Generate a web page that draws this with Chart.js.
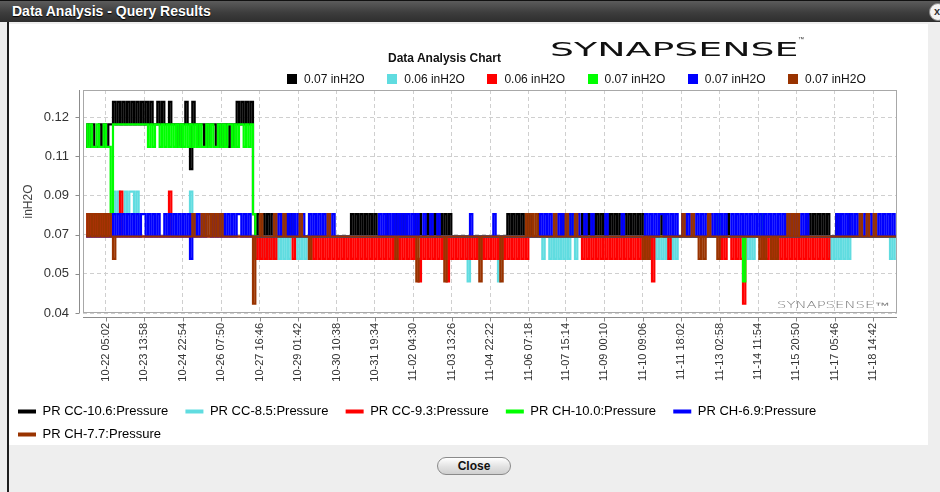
<!DOCTYPE html>
<html>
<head>
<meta charset="utf-8">
<title>Data Analysis - Query Results</title>
<script src="https://cdn.jsdelivr.net/npm/chart.js@4.4.1/dist/chart.umd.min.js"></script>
<style>
  html, body { margin: 0; padding: 0; }
  body { width: 940px; height: 492px; overflow: hidden; position: relative; background: #eeeeee; font-family: "Liberation Sans", Arial, sans-serif; }
  #titlebar { position: absolute; left: 0; top: 0; width: 940px; height: 22px; box-sizing: border-box; border-top: 1px solid #111; background: linear-gradient(#5c5c5c, #3d3d3d 55%, #2e2e2e); }
  #titlebar span { position: absolute; left: 12px; top: 2px; color: #fff; font-weight: bold; font-size: 14px; text-shadow: 0 1px 1px #000; }
  #closeX { position: absolute; left: 929px; top: 3px; width: 16px; height: 16px; border-radius: 50%; background: #f4f4f4; border: 1px solid #888; font: bold 11px "Liberation Sans", Arial; color: #333; line-height: 15px; text-indent: 4px; }
  #edge { position: absolute; left: 7px; top: 22px; width: 2px; height: 470px; background: #1e1e1e; }
  #panel { position: absolute; left: 9px; top: 24px; width: 919px; height: 421px; background: #fff; }
  #chartBox { position: absolute; left: 8px; top: 24px; width: 920px; height: 427px; }
  #chartTitle { position: absolute; left: 388px; top: 51px; font-weight: bold; font-size: 12px; color: #111; }
  #logo { position: absolute; left: 550px; top: 39px; white-space: nowrap; }
  .logoText { display: inline-block; font-family: "DejaVu Sans", sans-serif; transform-origin: 0 0; }
  #logoBig { font-size: 20px; line-height: 20px; color: #111; }
  #tm { position: absolute; left: 798px; top: 36px; font-size: 6px; color: #333; }
  #logoSmall { position: absolute; left: 777px; top: 302px; font-size: 8px; line-height: 8px; color: #777; font-weight: 200; }
  #valueLegend { position: absolute; left: 287px; top: 72px; display: flex; font-size: 12px; color: #111; }
  #valueLegend .item { display: flex; align-items: center; margin-right: 22.5px; }
  #valueLegend .sw { width: 10px; height: 10px; margin-right: 7px; }
  #closeBtn { position: absolute; left: 437px; top: 457px; width: 74px; height: 18px; box-sizing: border-box; border: 1px solid #8a8a8a; border-radius: 9px; background: linear-gradient(#ffffff, #e4e4e4 50%, #cfcfcf); font-weight: bold; font-size: 12px; text-align: center; line-height: 16px; color: #111; }
</style>
</head>
<body>
<div id="titlebar"><span>Data Analysis - Query Results</span></div>
<div id="closeX">x</div>
<div id="panel"></div>
<div id="edge"></div>
<div id="chartBox"><canvas id="chart" width="920" height="427"></canvas></div>
<div id="chartTitle">Data Analysis Chart</div>
<div id="logo"><span id="logoBig" class="logoText">SYNAPSENSE</span></div>
<div id="tm">™</div>
<span id="logoSmall" class="logoText">SYNAPSENSE™</span>
<div id="valueLegend"></div>
<div id="closeBtn">Close</div>

<script>
// series names, colours and the latest value shown in the top legend
const seriesNames = ['PR CC-10.6:Pressure', 'PR CC-8.5:Pressure', 'PR CC-9.3:Pressure', 'PR CH-10.0:Pressure', 'PR CH-6.9:Pressure', 'PR CH-7.7:Pressure'];
const seriesColors = ['#000000', '#60dce0', '#ff0000', '#00ff00', '#0000ff', '#993300'];
const currentValues = [0.07, 0.06, 0.06, 0.07, 0.07, 0.07];
const unit = 'inH2O';

// x axis tick labels (MM-DD HH:MM), hours are counted from the first one
const xTickLabels = ['10-22 05:02', '10-23 13:58', '10-24 22:54', '10-26 07:50', '10-27 16:46', '10-29 01:42', '10-30 10:38', '10-31 19:34', '11-02 04:30', '11-03 13:26', '11-04 22:22', '11-06 07:18', '11-07 15:14', '11-09 00:10', '11-10 09:06', '11-11 18:02', '11-13 02:58', '11-14 11:54', '11-15 20:50', '11-17 05:46', '11-18 14:42'];
const xMinHour = -19.7;
const xMaxHour = 678.0;

// y axis
const yTickValues = [0.03587, 0.05334, 0.07082, 0.08829, 0.10577, 0.12324];
const yMin = 0.03587;
const yMax = 0.13533;

// samples every 2 hours, first one 17 h before the first tick label
const firstSampleHour = -17;
const sampleStepHours = 2;

// readings, hundredths of inH2O
const prCC106 = [
  11,12,11,12,11,11,12,11,12,11,12,12,13,12,13,12,13,12,13,12,
  13,12,13,12,13,12,13,12,13,12,12,13,12,13,12,12,13,12,12,12,
  11,12,12,13,12,10,13,12,11,12,12,11,12,11,12,12,11,12,11,12,
  12,11,12,11,12,13,12,13,12,13,12,13,8,7,8,7,8,7,8,7,
  8,7,7,7,7,7,8,7,8,7,7,7,7,7,7,7,7,7,7,7,
  7,7,7,7,7,7,7,7,7,7,7,7,7,7,8,7,8,7,8,7,
  8,7,8,7,8,7,7,7,7,8,7,7,7,8,7,7,8,7,7,7,
  7,8,7,8,7,7,8,7,8,7,8,7,8,7,8,7,8,7,7,7,
  7,7,7,7,7,7,7,7,7,7,7,7,7,7,7,7,7,7,7,7,
  7,8,7,8,7,8,7,8,7,8,7,8,7,7,8,7,7,7,7,7,
  7,7,7,7,7,8,7,7,7,7,7,7,7,8,7,8,7,8,7,8,
  7,8,7,8,7,8,7,8,7,8,7,8,7,8,7,8,7,8,7,8,
  7,7,7,7,7,7,7,8,7,7,7,7,7,7,7,7,7,7,7,7,
  7,7,7,7,7,7,7,7,7,7,7,7,7,7,7,8,7,7,7,7,
  7,7,7,7,7,7,7,7,7,7,7,7,7,7,7,7,7,7,7,7,
  7,7,7,7,7,7,7,7,7,7,8,7,8,7,8,7,8,7,8,7,
  7,7,8,7,7,7,7,8,7,7,7,7,7,7,7,7,7,7,7,7,
  7,7,7,7,7,7,7,7
];
const prCC85 = [
  7,7,7,7,7,7,7,7,7,7,7,7,9,8,9,8,8,9,8,9,
  9,8,9,7,7,7,7,7,7,7,7,7,7,7,7,7,7,7,7,7,
  7,7,7,7,7,9,7,7,7,7,7,7,7,7,7,7,7,7,7,7,
  7,7,7,7,7,7,7,7,7,7,7,7,7,6,7,6,7,6,7,6,
  7,6,7,6,7,6,7,6,7,7,6,7,6,7,6,7,7,7,7,7,
  7,7,7,7,7,7,7,7,7,7,7,7,7,7,7,7,7,7,7,7,
  7,7,7,7,7,7,7,7,7,7,7,7,7,7,7,7,7,7,7,7,
  7,7,7,7,7,7,7,7,7,7,7,7,7,7,7,7,7,7,7,7,
  7,7,7,7,5,7,7,7,7,7,7,7,7,7,7,7,7,5,7,7,
  7,7,7,7,7,7,7,7,7,7,7,7,7,7,7,7,6,7,7,6,
  7,6,7,6,7,6,7,6,7,7,6,7,7,7,7,7,7,7,7,7,
  7,7,7,7,7,7,7,7,7,7,7,7,7,7,7,7,7,7,7,7,
  7,7,7,6,7,6,7,6,7,6,7,6,7,6,7,7,7,7,7,7,
  7,7,7,7,7,7,7,7,7,7,7,7,7,7,7,7,7,7,7,7,
  7,7,7,7,6,7,6,7,7,7,7,7,7,7,7,7,7,7,7,7,
  7,7,7,7,7,7,7,7,7,7,7,7,7,7,7,7,7,7,7,6,
  7,6,7,6,7,6,7,6,7,7,7,7,7,7,7,7,7,7,7,7,
  7,7,7,7,7,6,7,6
];
const prCC93 = [
  7,8,7,8,7,8,7,8,7,8,7,8,7,7,7,9,7,7,7,7,
  7,7,7,7,7,7,7,7,7,7,7,7,7,7,7,7,9,7,7,7,
  7,7,7,7,7,7,7,7,7,7,7,7,7,7,7,8,7,8,7,7,
  7,7,7,7,7,7,7,7,7,7,7,7,7,6,7,6,7,6,7,6,
  7,6,7,7,7,7,7,7,7,6,7,7,7,7,7,7,6,7,6,7,
  6,7,6,7,6,7,6,7,6,7,6,7,6,7,6,7,6,7,6,7,
  6,7,6,7,6,7,6,7,6,7,6,7,6,7,6,7,6,7,6,7,
  6,7,6,5,7,6,7,6,7,6,7,6,7,6,7,5,7,6,7,6,
  7,6,7,6,7,6,7,6,7,6,7,6,7,6,7,6,7,6,7,6,
  7,6,7,6,7,6,7,6,7,6,7,7,7,7,7,7,7,7,7,7,
  7,7,7,7,7,7,7,7,7,7,7,7,7,6,7,6,7,6,7,6,
  7,6,7,6,7,6,7,6,7,6,7,6,7,6,7,6,7,6,7,6,
  7,6,7,5,7,7,7,7,7,7,6,7,7,7,7,7,7,7,7,7,
  7,7,7,7,7,7,7,7,7,7,7,7,6,7,6,7,7,6,7,6,
  7,6,4,7,7,7,7,7,7,7,6,7,6,7,6,7,6,7,6,7,
  6,7,6,7,6,7,6,7,6,7,6,7,6,7,6,7,6,7,6,7,
  7,7,7,7,7,7,7,7,7,7,7,7,7,7,7,7,7,7,7,7,
  7,7,7,7,7,7,7,7
];
const prCH100 = [
  12,11,12,11,11,12,11,11,12,11,11,8,12,12,12,12,12,12,12,12,
  12,12,12,12,12,12,12,11,12,11,12,12,11,12,11,12,11,12,11,12,
  11,12,11,12,11,12,11,12,11,12,11,11,12,11,12,11,11,12,11,12,
  11,12,12,11,12,11,12,12,11,12,11,12,8,7,7,7,7,7,7,7,
  7,7,7,7,7,7,7,7,7,7,7,7,7,7,7,7,7,7,7,7,
  7,7,7,7,7,7,7,7,7,7,7,7,7,7,7,7,7,7,7,7,
  7,7,7,7,7,7,7,7,7,7,7,7,7,7,7,7,7,7,7,7,
  7,7,7,7,7,7,7,7,7,7,7,7,7,7,7,7,7,7,7,7,
  7,7,7,7,7,7,7,7,7,7,7,7,7,7,7,7,7,7,7,7,
  7,7,7,7,7,7,7,7,7,7,7,7,7,7,7,7,7,7,7,7,
  7,7,7,7,7,7,7,7,8,7,7,7,7,7,7,7,7,7,7,7,
  7,7,7,7,7,7,7,7,7,7,7,7,7,7,7,7,7,7,7,7,
  7,7,7,7,7,7,7,7,7,7,7,7,7,7,7,7,7,7,7,7,
  7,7,7,7,7,7,7,7,7,7,7,8,7,7,7,7,7,7,7,7,
  7,7,5,7,7,7,7,7,7,7,8,7,7,7,7,7,7,7,7,7,
  7,7,7,7,7,7,7,7,7,7,7,7,7,7,7,7,7,7,7,7,
  7,7,7,7,7,7,7,7,7,7,7,7,7,7,7,7,7,7,7,7,
  7,7,7,7,7,7,7,7
];
const prCH69 = [
  7,7,7,7,7,7,7,7,7,7,7,7,8,7,8,7,8,7,8,7,
  8,7,8,7,8,8,7,8,7,8,7,8,7,7,8,7,8,7,8,7,
  8,7,8,7,8,6,8,7,8,7,8,7,8,8,7,8,7,8,7,8,
  7,8,7,8,7,8,8,7,8,7,8,7,7,7,7,7,7,7,7,7,
  7,8,7,8,7,8,7,8,7,8,7,8,7,8,7,7,8,7,8,7,
  8,7,8,7,8,7,8,7,7,7,7,7,7,7,7,7,7,7,7,7,
  7,7,7,7,7,7,8,7,8,7,8,7,8,7,8,7,8,7,8,7,
  8,7,8,7,7,8,7,7,8,7,7,8,7,7,7,7,7,7,7,7,
  7,7,7,7,7,8,7,7,7,7,7,7,7,7,7,8,7,7,7,7,
  7,7,7,7,7,7,7,7,7,7,7,7,7,7,7,8,7,8,7,8,
  7,8,7,8,7,8,7,8,7,8,7,8,7,7,8,7,7,8,7,7,
  7,7,7,8,7,7,7,7,7,7,8,7,7,7,7,7,7,7,7,7,
  8,7,8,7,8,7,8,8,7,8,7,8,7,8,7,7,8,7,8,7,
  8,7,8,7,8,7,8,7,8,7,8,7,8,7,8,7,7,8,7,8,
  7,8,7,8,7,8,7,8,7,8,7,8,7,8,7,8,7,8,7,8,
  7,8,7,8,7,8,7,8,7,8,7,7,7,7,7,7,7,7,7,7,
  7,7,8,7,8,7,8,7,8,7,8,7,8,7,8,7,8,7,8,7,
  8,7,8,7,8,7,8,7
];
const prCH77 = [
  8,7,8,7,8,7,8,7,8,7,8,7,6,7,7,7,7,7,7,7,
  7,7,7,7,7,7,7,7,7,7,7,7,7,7,7,7,7,7,7,7,
  7,7,7,7,7,7,8,7,7,7,8,7,8,7,8,7,8,7,8,7,
  7,7,7,7,7,7,7,7,7,7,7,7,4,7,7,8,7,7,7,7,
  7,8,7,7,7,8,7,7,7,7,7,7,8,7,7,7,6,7,7,7,
  7,7,7,7,8,7,7,7,7,7,7,7,7,7,7,7,7,7,7,7,
  7,7,7,7,7,7,7,7,7,7,7,7,7,6,7,7,7,7,7,7,
  7,7,5,7,7,7,7,7,7,7,7,7,7,7,5,7,7,7,7,7,
  7,7,7,7,7,7,7,7,7,5,7,7,7,7,7,7,7,7,5,7,
  7,7,7,7,7,7,7,7,7,8,7,8,7,8,7,7,7,7,7,7,
  7,8,7,7,7,7,8,7,7,7,8,7,7,7,7,7,7,7,7,7,
  7,7,7,7,7,7,7,7,7,7,7,7,7,7,7,7,7,7,7,6,
  7,6,7,7,7,7,7,7,7,7,7,7,7,7,7,7,8,7,7,7,
  8,7,7,6,7,6,7,8,7,7,7,6,7,7,7,7,7,7,7,7,
  7,7,7,7,7,7,7,7,7,6,7,6,7,7,6,7,6,7,7,7,
  7,8,7,8,7,8,7,7,7,7,7,7,7,7,7,7,7,7,7,7,
  7,7,7,7,7,7,7,7,7,7,7,7,8,7,7,8,7,7,8,7,
  7,7,7,7,7,7,7,7
];
const seriesValues = [prCC106, prCC85, prCC93, prCH100, prCH69, prCH77];

// 'MM-DD HH:MM' -> hours after the first tick label
function hoursFrom(label) {
  const [md, hm] = label.split(' ');
  const [mo, d] = md.split('-').map(Number);
  const [h, m] = hm.split(':').map(Number);
  const base = Date.UTC(2000, 9, 22, 5, 2);
  return (Date.UTC(2000, mo - 1, d, h, m) - base) / 3600000;
}
const xTickHours = xTickLabels.map(hoursFrom);

// top legend with the latest values
const valueLegend = document.getElementById('valueLegend');
currentValues.forEach((v, k) => {
  const item = document.createElement('div');
  item.className = 'item';
  item.innerHTML = `<span class="sw" style="background:${seriesColors[k]}"></span>${v.toFixed(2)} ${unit}`;
  valueLegend.appendChild(item);
});

// stretch logo text to the width seen in the picture
function fitWidth(id, w) {
  const el = document.getElementById(id);
  el.style.transform = `scaleX(${w / el.offsetWidth})`;
}
fitWidth('logoBig', 248);
fitWidth('logoSmall', 113);

const plotFrame = {
  id: 'plotFrame',
  beforeDatasetsDraw(chart) {
    const {ctx, chartArea: a} = chart;
    ctx.save();
    ctx.strokeStyle = '#a8a8a8';
    ctx.lineWidth = 1;
    ctx.strokeRect(a.left + 0.5, a.top + 0.5, a.right - a.left - 1, a.bottom - a.top - 1);
    ctx.restore();
  },
  afterDraw(chart) {
    // axis lines sit a few pixels off the plot, jfreechart style
    const {ctx, chartArea: a, scales: {x, y}} = chart;
    const ax = Math.round(a.left - 4) + 0.5;
    const ay = Math.round(a.bottom + 4) + 0.5;
    ctx.save();
    ctx.strokeStyle = '#8c8c8c';
    ctx.lineWidth = 1;
    ctx.beginPath();
    ctx.moveTo(ax, a.top);
    ctx.lineTo(ax, a.bottom);
    y.ticks.forEach(t => {
      const py = Math.round(y.getPixelForValue(t.value)) + 0.5;
      ctx.moveTo(ax - 4, py);
      ctx.lineTo(ax, py);
    });
    ctx.moveTo(a.left, ay);
    ctx.lineTo(a.right, ay);
    x.ticks.forEach(t => {
      const px = Math.round(x.getPixelForValue(t.value)) + 0.5;
      ctx.moveTo(px, ay);
      ctx.lineTo(px, ay + 4);
    });
    ctx.stroke();
    ctx.restore();
  }
};

Chart.defaults.font.family = '"Liberation Sans", Arial, sans-serif';

new Chart(document.getElementById('chart'), {
  type: 'line',
  data: {
    datasets: seriesNames.map((name, k) => ({
      label: name,
      data: seriesValues[k].map((v, i) => ({x: firstSampleHour + i * sampleStepHours, y: v / 100})),
      borderColor: seriesColors[k],
      backgroundColor: seriesColors[k],
      borderWidth: 2.2,
      pointRadius: 0,
      stepped: 'middle',
      order: seriesNames.length - 1 - k
    }))
  },
  options: {
    responsive: false,
    animation: false,
    events: [],
    layout: {padding: {top: 66, right: 31, left: 0, bottom: 0}},
    scales: {
      x: {
        type: 'linear',
        min: xMinHour,
        max: xMaxHour,
        afterBuildTicks: s => { s.ticks = xTickHours.map(v => ({value: v})); },
        afterFit: s => { s.height = 82; },
        ticks: {
          autoSkip: false,
          minRotation: 90,
          maxRotation: 90,
          padding: 10,
          color: '#333',
          font: {size: 11},
          callback: (v, i) => xTickLabels[i]
        },
        grid: {color: '#cfcfcf', drawTicks: false},
        border: {display: false, dash: [4, 3]}
      },
      y: {
        type: 'linear',
        min: yMin,
        max: yMax,
        afterBuildTicks: s => { s.ticks = yTickValues.map(v => ({value: v})); },
        afterFit: s => { s.width = 75; },
        ticks: {
          padding: 14,
          color: '#333',
          font: {size: 13},
          callback: v => v.toFixed(2)
        },
        grid: {color: '#cfcfcf', drawTicks: false},
        border: {display: false, dash: [4, 3]},
        title: {display: true, text: 'inH2O', color: '#444', font: {size: 12}, padding: {top: 13, bottom: 0}}
      }
    },
    plugins: {
      title: {display: false},
      tooltip: {enabled: false},
      legend: {
        position: 'bottom',
        align: 'start',
        labels: {
          boxWidth: 18,
          boxHeight: 4,
          padding: 10,
          color: '#111',
          font: {size: 13},
          generateLabels: chart => chart.data.datasets.map((ds, i) => ({
            text: ds.label + '  ',
            fillStyle: ds.borderColor,
            strokeStyle: ds.borderColor,
            lineWidth: 0,
            hidden: false,
            datasetIndex: i
          }))
        }
      }
    }
  },
  plugins: [plotFrame]
});
</script>
</body>
</html>
